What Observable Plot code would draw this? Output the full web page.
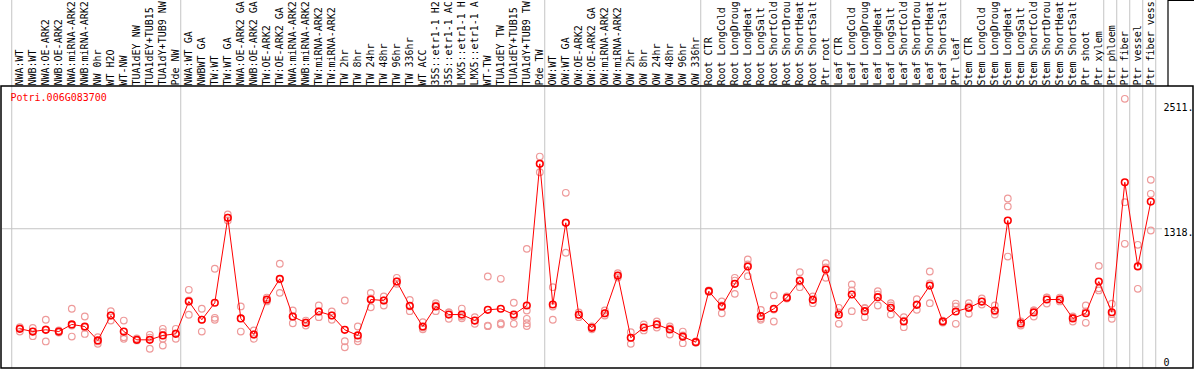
<!DOCTYPE html>
<html><head><meta charset="utf-8">
<script src="https://cdn.jsdelivr.net/npm/d3@7"></script>
<script src="https://cdn.jsdelivr.net/npm/@observablehq/plot@0.6"></script>
<style>body{margin:0;background:#fff} #chart{position:relative;width:1194px;height:370px;overflow:hidden}</style>
</head><body><div id="chart"></div>
<script>
const gene = "Potri.006G083700";
const labels = [
"NWA:WT","NWB:WT","NWA:OE-ARK2","NWB:OE-ARK2","NWA:miRNA-ARK2","NWB:miRNA-ARK2","NW 0hr","WT H2O","WT-NW","TUA1dEY NW","TUA1dEY+TUB15 ","TUA1dY+TUB9 NW","Pde NW",
"NWA:WT GA","NWBWT GA","TW:WT","TW:WT GA","NWA:OE-ARK2 GA","NWB:OE-ARK2 GA","TW:OE-ARK2","TW:OE-ARK2 GA","NWA:miRNA-ARK2","NWB:miRNA-ARK2","TW:miRNA-ARK2","TW:miRNA-ARK2","TW 2hr","TW 8hr","TW 24hr","TW 48hr","TW 96hr","TW 336hr","WT ACC","35S::etr1-1 H2","35S::etr1-1 AC","LMX5::etr1-1 H","LMX5::etr1-1 A","WT-TW","TUA1dEY TW","TUA1dEY+TUB15 ","TUA1dY+TUB9 TW","Pde TW",
"OW:WT","OW:WT GA","OW:OE-ARK2","OW:OE-ARK2 GA","OW:miRNA-ARK2","OW:miRNA-ARK2","OW 2hr","OW 8hr","OW 24hr","OW 48hr","OW 96hr","OW 336hr",
"Root CTR","Root LongCold","Root LongDroug","Root LongHeat","Root LongSalt","Root ShortCold","Root ShortDrou","Root ShortHeat","Root ShortSalt","Ptr root",
"Leaf CTR","Leaf LongCold","Leaf LongDroug","Leaf LongHeat","Leaf LongSalt","Leaf ShortCold","Leaf ShortDrou","Leaf ShortHeat","Leaf ShortSalt","Ptr leaf",
"Stem CTR","Stem LongCold","Stem LongDroug","Stem LongHeat","Stem LongSalt","Stem ShortCold","Stem ShortDrou","Stem ShortHeat","Stem ShortSalt","Ptr shoot","Ptr xylem",
"Ptr phloem","Ptr fiber","Ptr vessel","Ptr fiber vess"];
const means = [400,375,391,375,440,421,293,522,375,299,299,339,354,
651,483,639,1419,495,348,669,859,513,455,559,522,391,339,669,660,834,611,421,605,531,531,476,574,584,531,614,1914,
623,1373,529,409,543,889,318,412,440,394,329,277,
745,605,813,972,516,584,685,843,666,944,
529,715,562,690,593,467,620,797,467,559,
593,650,568,1394,449,550,669,669,495,543,834,
552,1745,972,1568];
const reps = [[415,375,403],[409,332,375],[483,284,394],[385,366,375],[584,329,430],[513,353,412],[323,262,284],[562,476,522],[476,323,308],[311,293,297],[345,217,320],[400,369,339,308,247],[400,308,357],
[758,529,660],[584,375,485],[951,501,483],[1449,1421,1394],[605,375,495],[385,308,348],[660,651,687],[997,730,853],[568,451,513],[476,430,458],[614,507,559],[559,483,522],[660,286,231],[421,286,311],[730,598,678],[697,614,660],[868,813,834],[666,562,605],[461,396,412],[635,562,614],[551,492,550],[586,497,513],[507,446,476],[880,424,430],[859,451,440],[639,446,513],[1134,568,492,451,425],[1981,1837,1917],
[782,483,604],[1648,1098,1376],[507,551,531],[421,396,412],[568,522,541],[910,871,889],[369,262,320],[440,385,412],[467,412,440],[421,348,403],[375,268,339],[284,274,274],
[752,738,745],[651,543,614],[868,721,843],[1036,883,990],[574,483,495],[706,467,577],[697,678,685],[920,782,834],[697,635,669],[1002,868,963],
[593,446,550],[807,562,752],[593,507,586],[745,614,715],[635,531,614],[507,415,476],[672,574,623],[926,635,816],[476,458,467],[605,446,632],
[635,538,605],[678,623,650],[614,531,560],[1596,1523,1063],[467,430,449],[568,513,569],[687,632,688],[687,651,669],[513,467,505],[614,455,560],[978,752,772],
[630,492,534],[2511,1562,1180],[1171,767,978],[1767,1639,1302]];
const groupStarts = [0,13,41,53,63,73,84,85,86,87,88];
const yTicks = [2511, 1318.3, 0];
const yTickLabels = ["2511.", "1318.", "0"];

const font = "DejaVu Sans Mono";
const idx = d3.range(labels.length);
const repData = reps.flatMap((r, i) => r.map(v => ({i, v})));
const yTickDy = [9, 4, -10];

const svg = Plot.plot({
  width: 1194, height: 370,
  marginTop: 0, marginBottom: 2, marginLeft: 2, marginRight: 32,
  style: {fontFamily: font, fontSize: "10px", background: "white"},
  x: {type: "linear", domain: [0, 87], range: [19.3, 1150.3], axis: null},
  y: {type: "linear", domain: [0, 2636.55], range: [371.9, 84.6], axis: null},
  marks: [
    Plot.ruleX(groupStarts, {x: d => d - 0.62, stroke: "#c4c4c4", strokeWidth: 1}),
    Plot.ruleY([yTicks[1]], {stroke: "#c4c4c4", strokeWidth: 1}),
    Plot.text(idx, {x: d => d, text: d => labels[d], frameAnchor: "top", rotate: -90, textAnchor: "start", lineAnchor: "middle", dy: 85, fill: "black", fontSize: 10}),
    ...yTicks.map((t, k) => Plot.text([t], {y: d => d, text: () => yTickLabels[k], frameAnchor: "right", textAnchor: "start", lineAnchor: "middle", dx: 1, dy: yTickDy[k], fill: "black", fontSize: 10})),
    Plot.text([gene], {text: d => d, frameAnchor: "top-left", dx: 8, dy: 97, textAnchor: "start", lineAnchor: "middle", fill: "red", fontSize: 10}),
    Plot.dot(repData, {x: "i", y: "v", r: 3.3, stroke: "#ee9a9a", strokeWidth: 1.2, fill: "none"}),
    Plot.line(idx, {x: d => d, y: d => means[d], stroke: "red", strokeWidth: 1}),
    Plot.dot(idx, {x: d => d, y: d => means[d], r: 3.3, stroke: "red", strokeWidth: 1.6, fill: "none"})
  ]
});
const s = d3.select(svg);
s.append("rect").attr("x", 1).attr("y", 86).attr("width", 1192).attr("height", 282)
  .attr("fill", "none").attr("stroke", "black").attr("stroke-width", 1.5);
s.append("path").attr("d", "M1168,86V0.5H1194").attr("fill", "none").attr("stroke", "black").attr("stroke-width", 1.2);
document.getElementById("chart").appendChild(svg);
</script>
</body></html>
